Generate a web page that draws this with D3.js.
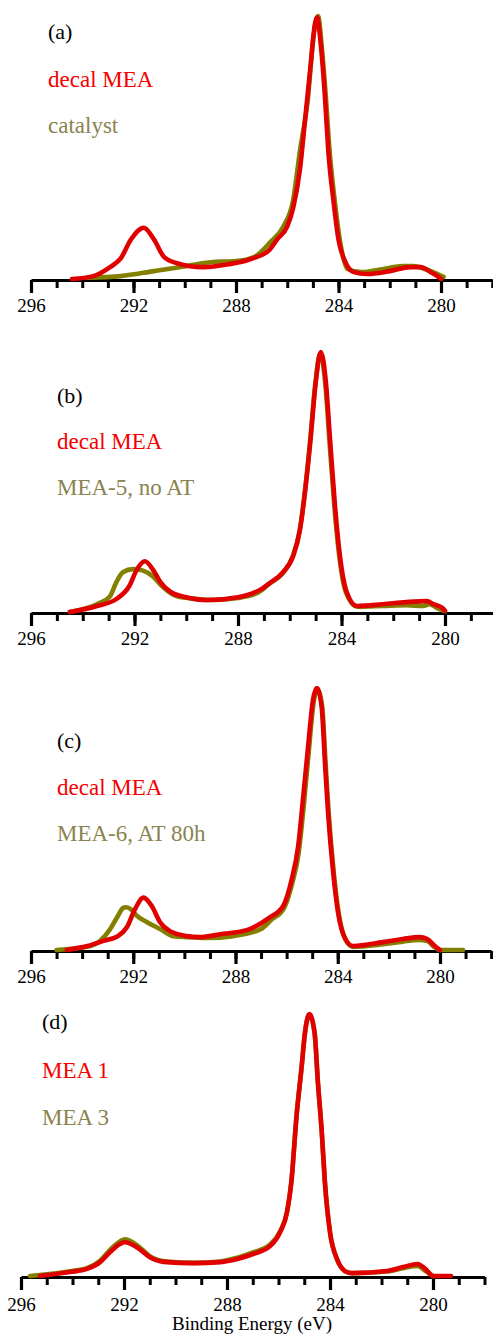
<!DOCTYPE html>
<html>
<head>
<meta charset="utf-8">
<script src="https://cdn.jsdelivr.net/npm/d3@7"></script>
<style>
  html, body { margin: 0; padding: 0; background: #fff; }
  svg { display: block; }
</style>
</head>
<body>
<svg id="chart" width="493" height="1335"></svg>
<script>
// C 1s spectra, [binding energy (eV), normalised intensity]
const aDecalMEA = [
  [294.4,0],[293.6,1],[292.9,4.6],[292.5,7.8],[292.1,15],[291.6,19.5],[291.2,15],[290.8,8.3],
  [290.3,6],[289.3,4.5],[288.3,5.6],[287.45,7.5],[286.7,11],[286.4,15],[286.0,20],[285.77,27],
  [285.5,42],[285.3,61],[285.1,80],[284.92,97],[284.84,99.5],[284.68,88],[284.52,68],[284.4,49],
  [284.2,30],[284.0,15],[283.73,6.4],[283.4,2.6],[282.9,1.9],[282.0,3],[281.2,4.5],[280.8,4.5],
  [280.4,2.6],[280.1,0.8],[280.0,0]
];
const aCatalyst = [
  [293.8,0.5],[292.5,1.1],[291.2,3],[290.2,4.5],[289.0,6.4],[288.0,6.8],[287.3,8.3],[286.66,14],
  [286.15,20],[285.77,30],[285.5,49],[285.2,68],[285.0,90],[284.8,100],[284.65,88],[284.5,70],
  [284.35,49],[284.15,30],[283.95,15],[283.65,3.8],[283.1,2.6],[282.25,3.8],[281.5,4.9],
  [281.1,4.9],[280.4,3],[279.9,0.8]
];
const bDecalMEA = [
  [294.5,0],[293.45,2.3],[292.7,5],[292.2,10],[291.9,16.5],[291.6,19.5],[291.3,16.5],[291.0,11.5],
  [290.6,7.7],[290.0,5.7],[289.2,4.6],[288.0,5.7],[287.5,7.0],[287.1,8.8],[286.76,11.2],
  [286.26,15.3],[285.87,21.5],[285.6,32],[285.4,47],[285.2,66],[285.0,88],[284.8,100],[284.6,88],
  [284.44,66],[284.25,40.6],[284.06,21.5],[283.8,7.7],[283.4,2.3],[282.4,3],[281.5,3.8],
  [280.7,4.2],[280.45,3],[280.1,1.5],[280.0,0.5]
];
const bMEA5 = [
  [294.5,0],[293.45,3],[292.95,6],[292.7,11.5],[292.45,15.3],[292.06,16.5],[291.7,16],[291.3,13.8],
  [290.9,9.6],[290.36,6],[289.6,5],[289.0,4.6],[288.0,5.4],[287.2,7.6],[286.8,10.8],[286.3,14.6],
  [285.9,21],[285.62,31],[285.42,46],[285.22,65],[285.02,87],[284.82,99.5],[284.62,87],
  [284.46,65],[284.27,40],[284.08,21],[283.82,7.3],[283.4,2],[282.4,2.3],[281.5,2.6],
  [280.85,2.3],[280.6,3],[280.3,1.5],[280.0,0.3]
];
const cDecalMEA = [
  [294.6,0],[293.8,1.5],[293.2,3.4],[292.6,5.3],[292.25,8.7],[291.93,15.6],[291.6,20],[291.27,16.7],
  [290.95,10.6],[290.56,7.2],[289.9,5.3],[289.4,4.9],[288.6,6],[287.5,7.8],[286.7,12.2],
  [286.14,16.7],[285.8,27],[285.55,39.5],[285.35,58.6],[285.16,77.6],[284.97,95.4],[284.82,100],
  [284.63,92.8],[284.5,71.5],[284.38,52.5],[284.18,29.7],[283.99,14.4],[283.7,4.2],[283.4,1.5],
  [282.23,3],[281.45,4.2],[280.8,4.9],[280.5,4.2],[280.2,1.5],[280.0,0]
];
const cMEA6 = [
  [295.0,0],[293.8,1.2],[293.3,3.4],[292.9,8],[292.6,13],[292.4,16],[292.3,16.3],[292.1,15.6],
  [291.85,13],[291.46,10.6],[290.95,8],[290.44,5.3],[289.9,4.9],[289.1,4.6],[288.1,5.3],
  [287.0,8],[286.6,11.5],[286.1,16],[285.78,25.5],[285.53,37],[285.33,55],[285.14,75],
  [284.95,94],[284.8,99.5],[284.61,93],[284.48,72],[284.36,53],[284.16,30],[283.97,14.5],
  [283.7,4],[283.4,1.2],[282.23,2.2],[281.45,3.2],[280.8,3.8],[280.5,3.4],[280.2,1],[280.0,0],
  [279.1,0]
];
const dMEA1 = [
  [295.26,0],[294.1,1.5],[293.44,2.7],[292.93,5.3],[292.54,9.1],[292.16,12.2],[291.96,12.9],
  [291.5,11],[291.0,7.2],[290.33,5.3],[289.3,4.9],[288.27,5.3],[287.6,6.5],[286.99,8.4],
  [286.33,11.4],[285.94,16.7],[285.67,24.3],[285.5,36],[285.3,61],[285.1,80],[284.97,93],
  [284.8,100],[284.6,93],[284.47,74],[284.32,55],[284.2,36],[284.0,16.7],[283.73,6.5],
  [283.34,1.5],[283.1,1.1],[281.8,1.9],[281.17,3.4],[280.6,4.6],[280.3,2.7],[280.0,0],[279.3,0]
];
const dMEA3 = [
  [295.65,0],[294.1,1.8],[293.44,3],[292.93,5.8],[292.54,10],[292.16,13.2],[291.96,14],
  [291.5,11.8],[291.0,7.6],[290.33,5.5],[289.3,5],[288.27,5.5],[287.6,7],[286.99,9],
  [286.33,12],[285.94,17],[285.67,24.5],[285.5,36],[285.3,61],[285.1,80],[284.97,93],
  [284.8,99.5],[284.6,93],[284.47,74],[284.32,55],[284.2,36],[284.0,16.7],[283.73,6.5],
  [283.34,1.5],[283.1,1.1],[281.8,1.7],[281.17,3],[280.6,3.8],[280.3,2],[280.0,0]
];

// axis ticks
const majorTicks = [296, 292, 288, 284, 280];
const minorTicks = d3.range(296, 277.5, -1);
const energyDomain = [296, 278];

// panel texts
const panelTags = ["(a)", "(b)", "(c)", "(d)"];
const legendRed = ["decal MEA", "decal MEA", "decal MEA", "MEA 1"];
const legendOlive = ["catalyst", "MEA-5, no AT", "MEA-6, AT 80h", "MEA 3"];
const seriesRed = [aDecalMEA, bDecalMEA, cDecalMEA, dMEA1];
const seriesOlive = [aCatalyst, bMEA5, cMEA6, dMEA3];
const xAxisTitle = "Binding Energy (eV)";

// panel geometry: x of 296 eV, x of 280 eV, baseline, top of tallest peak, text left, text baselines
const layout = [
  { x0: 31, x280: 441, base: 280,  top: 16,   tx: 48, ty: [39, 87, 133] },
  { x0: 31, x280: 445, base: 613,  top: 352,  tx: 57, ty: [403, 449, 495] },
  { x0: 31, x280: 440, base: 951,  top: 688,  tx: 57, ty: [748, 795, 841] },
  { x0: 21, x280: 433, base: 1277, top: 1014, tx: 42, ty: [1029, 1078, 1125] }
];

const SERIF = "'Liberation Serif', 'DejaVu Serif', 'Times New Roman', Times, serif";
const RED_LINE = "#e10000", OLIVE_LINE = "#838000";
const RED_TEXT = "#f50000", OLIVE_TEXT = "#8a8350";

const svg = d3.select("#chart");

function label(sel, x, y, size, color, str) {
  return sel.append("text")
    .attr("x", x).attr("y", y)
    .style("font-family", SERIF)
    .style("font-size", size + "px")
    .attr("fill", color)
    .text(str);
}

layout.forEach((L, i) => {
  const pxPerEV = (L.x280 - L.x0) / 16;
  const x = d3.scaleLinear().domain(energyDomain).range([L.x0, L.x0 + 18 * pxPerEV]);
  const y = d3.scaleLinear().domain([0, 100]).range([L.base - 1, L.top]);
  const g = svg.append("g");

  // minor ticks
  g.append("g")
    .attr("transform", `translate(0,${L.base})`)
    .call(d3.axisBottom(x).tickValues(minorTicks).tickSize(8).tickSizeOuter(0).tickFormat(""))
    .call(a => a.select(".domain").remove())
    .call(a => a.selectAll("line").attr("stroke", "#000").attr("stroke-width", 3));

  // major ticks, labels and the axis line
  const ax = g.append("g")
    .attr("transform", `translate(0,${L.base})`)
    .call(d3.axisBottom(x).tickValues(majorTicks).tickSize(13).tickSizeOuter(0)
      .tickFormat(d3.format("d")));
  ax.select(".domain").attr("stroke", "#000").attr("stroke-width", 3.2);
  ax.selectAll(".tick line").attr("stroke", "#000").attr("stroke-width", 3.2);
  ax.selectAll(".tick text")
    .style("font-family", SERIF)
    .style("font-size", "19px")
    .attr("fill", "#000")
    .attr("dy", null).attr("y", i === 3 ? 34 : 32);

  const line = d3.line()
    .x(d => x(d[0]))
    .y(d => y(d[1]))
    .curve(d3.curveMonotoneX);

  g.append("path").datum(seriesOlive[i])
    .attr("d", line).attr("fill", "none")
    .attr("stroke", OLIVE_LINE).attr("stroke-width", 4.6)
    .attr("stroke-linejoin", "round").attr("stroke-linecap", "round");
  g.append("path").datum(seriesRed[i])
    .attr("d", line).attr("fill", "none")
    .attr("stroke", RED_LINE).attr("stroke-width", 4.6)
    .attr("stroke-linejoin", "round").attr("stroke-linecap", "round");

  label(g, L.tx, L.ty[0], 22, "#000", panelTags[i]);
  label(g, L.tx, L.ty[1], 23, RED_TEXT, legendRed[i]);
  label(g, L.tx, L.ty[2], 23, OLIVE_TEXT, legendOlive[i]);

  if (i === 3) {
    label(svg, 252, 1330, 19, "#000", xAxisTitle).attr("text-anchor", "middle");
  }
});
</script>
</body>
</html>
